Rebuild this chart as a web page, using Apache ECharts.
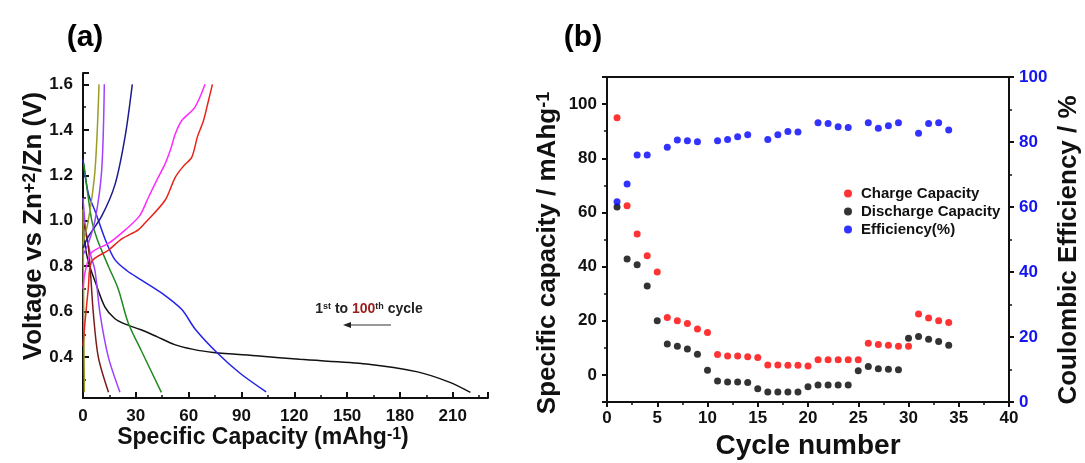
<!DOCTYPE html>
<html>
<head>
<meta charset="utf-8">
<script src="https://cdn.jsdelivr.net/npm/echarts@6.0.0/dist/echarts.min.js"></script>
<style>
    html, body { margin: 0; padding: 0; background: #fff; }
    #main { width: 1085px; height: 463px; }
</style>
</head>
<body>
<div id="main"></div>
<script>
// (a) voltage profiles, [capacity mAh/g, voltage V]
var blackDischarge = [[0, 1.0], [1, 0.9], [3, 0.82], [7, 0.73], [12.5, 0.62], [18, 0.57], [24, 0.545], [33, 0.52], [42, 0.49], [52, 0.455], [62, 0.435], [74, 0.42], [100, 0.405], [123, 0.39], [161, 0.37], [190, 0.335], [208, 0.29], [220, 0.245]];
var blueDischarge = [[0, 1.27], [3, 1.12], [7, 1.04], [12.5, 0.92], [18, 0.83], [25, 0.78], [33, 0.74], [45, 0.68], [56, 0.61], [64, 0.52], [76, 0.42], [89, 0.33], [104, 0.247]];
var greenDischarge = [[0.5, 1.25], [2, 1.16], [5, 1.0], [8, 0.92], [14.4, 0.8], [20, 0.7], [25.7, 0.55], [33, 0.43], [44.5, 0.245]];
var purpleDischarge = [[0, 1.1], [1.6, 0.96], [4, 0.86], [6.8, 0.78], [9.7, 0.59], [14.4, 0.4], [21, 0.245]];
var brownDischarge = [[0, 1.0], [3, 0.89], [5.9, 0.59], [8.7, 0.4], [14.5, 0.245]];
var oliveDischarge = [[0, 1.05], [0.4, 0.6], [0.8, 0.245]];
var redCharge = [[0, 0.45], [1.1, 0.55], [3, 0.7], [4.9, 0.82], [14.4, 0.87], [22, 0.92], [31.4, 0.96], [35.2, 0.99], [46.6, 1.09], [52.3, 1.19], [57, 1.24], [61.8, 1.28], [65, 1.37], [68.4, 1.44], [71, 1.52], [73.5, 1.6]];
var magentaCharge = [[0, 0.7], [1.1, 0.77], [4.9, 0.86], [14.4, 0.9], [24, 0.96], [32, 1.02], [37, 1.1], [42, 1.18], [46.6, 1.25], [50, 1.32], [52.3, 1.38], [56, 1.44], [63.6, 1.5], [69.3, 1.6]];
var navyCharge = [[0, 0.88], [3, 0.93], [10.6, 1.02], [18.2, 1.16], [23.9, 1.37], [28, 1.6]];
var purpleCharge = [[0, 0.85], [3, 0.9], [6.8, 1.0], [10.6, 1.22], [12.1, 1.6]];
var oliveCharge = [[0, 0.9], [3, 1.0], [6.8, 1.22], [9.1, 1.6]];

var curveData = [blackDischarge, blueDischarge, greenDischarge, purpleDischarge, brownDischarge, oliveDischarge,
    redCharge, magentaCharge, navyCharge, purpleCharge, oliveCharge];
var curveColors = ['#111111', '#2323ea', '#1f8a1f', '#a040ff', '#7a1a1a', '#9c9c28',
    '#e8231b', '#ff2cff', '#1c1c8c', '#a040ff', '#9c9c28'];

// (b) cycling data
var cycles = [1, 2, 3, 4, 5, 6, 7, 8, 9, 10, 11, 12, 13, 14, 15, 16, 17, 18, 19, 20, 21, 22, 23, 24, 25, 26, 27, 28, 29, 30, 31, 32, 33, 34];
var chargeCap = [95, 62.5, 52, 44, 38, 21.2, 20, 19, 17, 15.7, 7.5, 7, 7, 6.7, 6.4, 3.7, 3.7, 3.6, 3.6, 3.3, 5.6, 5.6, 5.6, 5.6, 5.6, 11.7, 11.2, 11, 10.6, 10.6, 22.5, 21, 20, 19.4];
var dischargeCap = [62, 42.8, 40.7, 32.8, 20, 11.4, 10.6, 9.6, 7.6, 1.7, -2.2, -2.6, -2.6, -2.8, -5.1, -6.3, -6.3, -6.3, -6.3, -4.4, -3.7, -3.7, -3.7, -3.7, 1.5, 3.1, 2.3, 2.1, 1.9, 13.5, 14.2, 13.2, 12.3, 11];
var efficiency = [61.6, 67.1, 76, 76, null, 78.4, 80.6, 80.4, 80.1, null, 80.4, 80.8, 81.6, 82.2, null, 80.8, 82.2, 83.2, 83.1, null, 85.9, 85.7, 84.7, 84.5, null, 85.9, 84.2, 85, 85.9, null, 82.7, 85.7, 85.9, 83.7];

function pairs(xs, ys) {
    var out = [];
    for (var i = 0; i < xs.length; i++) {
        if (ys[i] !== null) out.push([xs[i], ys[i]]);
    }
    return out;
}

var font = 'Liberation Sans, Arial, sans-serif';
var labelA = { color: '#111', fontSize: 17, fontWeight: 'bold', fontFamily: font };

function title(x, y, rot, main, sup, tail, size) {
    var text = '{t|' + main + '}' + (sup ? '{s|' + sup + '}' : '') + (tail ? '{t|' + tail + '}' : '');
    return {
        type: 'text', x: x, y: y, rotation: rot,
        style: {
            text: text, align: 'center', verticalAlign: 'middle',
            rich: {
                t: { fontSize: size, fontWeight: 'bold', fontFamily: font, fill: '#111' },
                s: { fontSize: Math.round(size * 0.7), fontWeight: 'bold', fontFamily: font, fill: '#111', verticalAlign: 'top' }
            }
        }
    };
}

var series = [];
for (var i = 0; i < curveData.length; i++) {
    series.push({
        type: 'line',
        xAxisIndex: 0,
        yAxisIndex: 0,
        data: curveData[i],
        smooth: 0.3,
        showSymbol: false,
        silent: true,
        lineStyle: { color: curveColors[i], width: 1.5 },
        z: 3
    });
}
series.push({
    name: 'Charge Capacity', type: 'scatter', xAxisIndex: 1, yAxisIndex: 1,
    data: pairs(cycles, chargeCap), symbolSize: 7, itemStyle: { color: '#ff0000' }
});
series.push({
    name: 'Discharge Capacity', type: 'scatter', xAxisIndex: 1, yAxisIndex: 1,
    data: pairs(cycles, dischargeCap), symbolSize: 7, itemStyle: { color: '#000000' }
});
series.push({
    name: 'Efficiency(%)', type: 'scatter', xAxisIndex: 1, yAxisIndex: 2,
    data: pairs(cycles, efficiency), symbolSize: 7, itemStyle: { color: '#0000ff' }
});

var chart = echarts.init(document.getElementById('main'), null, { renderer: 'canvas' });
var option = {
    animation: false,
    backgroundColor: '#ffffff',
    grid: [
        { left: 83, top: 73, width: 405, height: 325 },
        { left: 607, top: 77, width: 402, height: 325, show: true, borderColor: '#111', borderWidth: 2, backgroundColor: 'transparent' }
    ],
    legend: {
        data: ['Charge Capacity', 'Discharge Capacity', 'Efficiency(%)'],
        orient: 'vertical',
        left: 839,
        top: 181,
        icon: 'circle',
        itemWidth: 8,
        itemHeight: 8,
        itemGap: 3,
        textStyle: { color: '#111', fontSize: 15, fontWeight: 'bold', fontFamily: font, padding: [0, 0, 0, 4] }
    },
    xAxis: [
        {
            gridIndex: 0, type: 'value', min: 0, max: 230, interval: 30,
            axisLine: { onZero: false, lineStyle: { color: '#111', width: 2 } },
            axisTick: { inside: true, length: 6, lineStyle: { width: 2 } },
            minorTick: { show: true, splitNumber: 2, length: 3, lineStyle: { color: '#111', width: 1.5 } },
            axisLabel: Object.assign({ margin: 10, showMaxLabel: false }, labelA),
            splitLine: { show: false }
        },
        {
            gridIndex: 1, type: 'value', min: 0, max: 40, interval: 5,
            axisLine: { onZero: false, lineStyle: { color: '#111', width: 2 } },
            axisTick: { length: 5, lineStyle: { width: 2 } },
            minorTick: { show: true, splitNumber: 2, length: 3, lineStyle: { color: '#111', width: 1.5 } },
            axisLabel: Object.assign({ margin: 8 }, labelA),
            splitLine: { show: false }
        }
    ],
    yAxis: [
        {
            gridIndex: 0, type: 'value', min: 0.22, max: 1.65, splitNumber: 7,
            axisLine: { onZero: false, lineStyle: { color: '#111', width: 2 } },
            axisTick: { inside: true, length: 6, lineStyle: { width: 2 } },
            minorTick: { show: true, splitNumber: 2, length: 3, lineStyle: { color: '#111', width: 1.5 } },
            axisLabel: Object.assign({
                margin: 10, showMinLabel: false, showMaxLabel: false,
                formatter: function (v) { return v.toFixed(1); }
            }, labelA),
            splitLine: { show: false }
        },
        {
            gridIndex: 1, type: 'value', min: -10, max: 110, splitNumber: 6,
            axisLine: { onZero: false, lineStyle: { color: '#111', width: 2 } },
            axisTick: { length: 5, lineStyle: { width: 2 } },
            minorTick: { show: true, splitNumber: 2, length: 3, lineStyle: { color: '#111', width: 1.5 } },
            axisLabel: Object.assign({ margin: 10, showMinLabel: false, showMaxLabel: false }, labelA),
            splitLine: { show: false }
        },
        {
            gridIndex: 1, type: 'value', position: 'right', min: 0, max: 100, interval: 20,
            axisLine: { show: true, onZero: false, lineStyle: { color: '#111', width: 2 } },
            axisTick: { length: 5, lineStyle: { width: 2 } },
            minorTick: { show: true, splitNumber: 2, length: 3, lineStyle: { color: '#111', width: 1.5 } },
            axisLabel: { margin: 10, color: '#1414f0', fontSize: 17, fontWeight: 'bold', fontFamily: font },
            splitLine: { show: false }
        }
    ],
    graphic: [
        { type: 'text', x: 85, y: 38, style: { text: '(a)', fill: '#000', fontSize: 30, fontWeight: 'bold', fontFamily: 'Liberation Sans Narrow, Liberation Sans, sans-serif', align: 'center', verticalAlign: 'middle' } },
        { type: 'text', x: 583, y: 38, style: { text: '(b)', fill: '#000', fontSize: 30, fontWeight: 'bold', fontFamily: 'Liberation Sans Narrow, Liberation Sans, sans-serif', align: 'center', verticalAlign: 'middle' } },
        title(263, 438, 0, 'Specific Capacity (mAhg', '-1', ')', 23),
        title(34, 226, Math.PI / 2, 'Voltage vs Zn', '+2', '/Zn (V)', 26),
        title(808, 446, 0, 'Cycle number', '', '', 28),
        title(548, 253, Math.PI / 2, 'Specific capacity / mAhg', '-1', '', 26),
        title(1069, 250, Math.PI / 2, 'Coulombic Efficiency / %', '', '', 26),
        {
            type: 'text', x: 369, y: 309,
            style: {
                text: '{t|1}{s|st}{t| to }{r|100}{s|th}{t| cycle}', align: 'center', verticalAlign: 'middle',
                rich: {
                    t: { fontSize: 14, fontWeight: 'bold', fontFamily: font, fill: '#222' },
                    r: { fontSize: 14, fontWeight: 'bold', fontFamily: font, fill: '#9b1c1c' },
                    s: { fontSize: 9, fontWeight: 'bold', fontFamily: font, fill: '#222', verticalAlign: 'top' }
                }
            }
        },
        { type: 'line', shape: { x1: 391, y1: 325, x2: 348, y2: 325 }, style: { stroke: '#333', lineWidth: 1 } },
        { type: 'polygon', shape: { points: [[343, 325], [351, 322], [351, 328]] }, style: { fill: '#222' } }
    ],
    series: series
};
chart.setOption(option);
</script>
</body>
</html>
